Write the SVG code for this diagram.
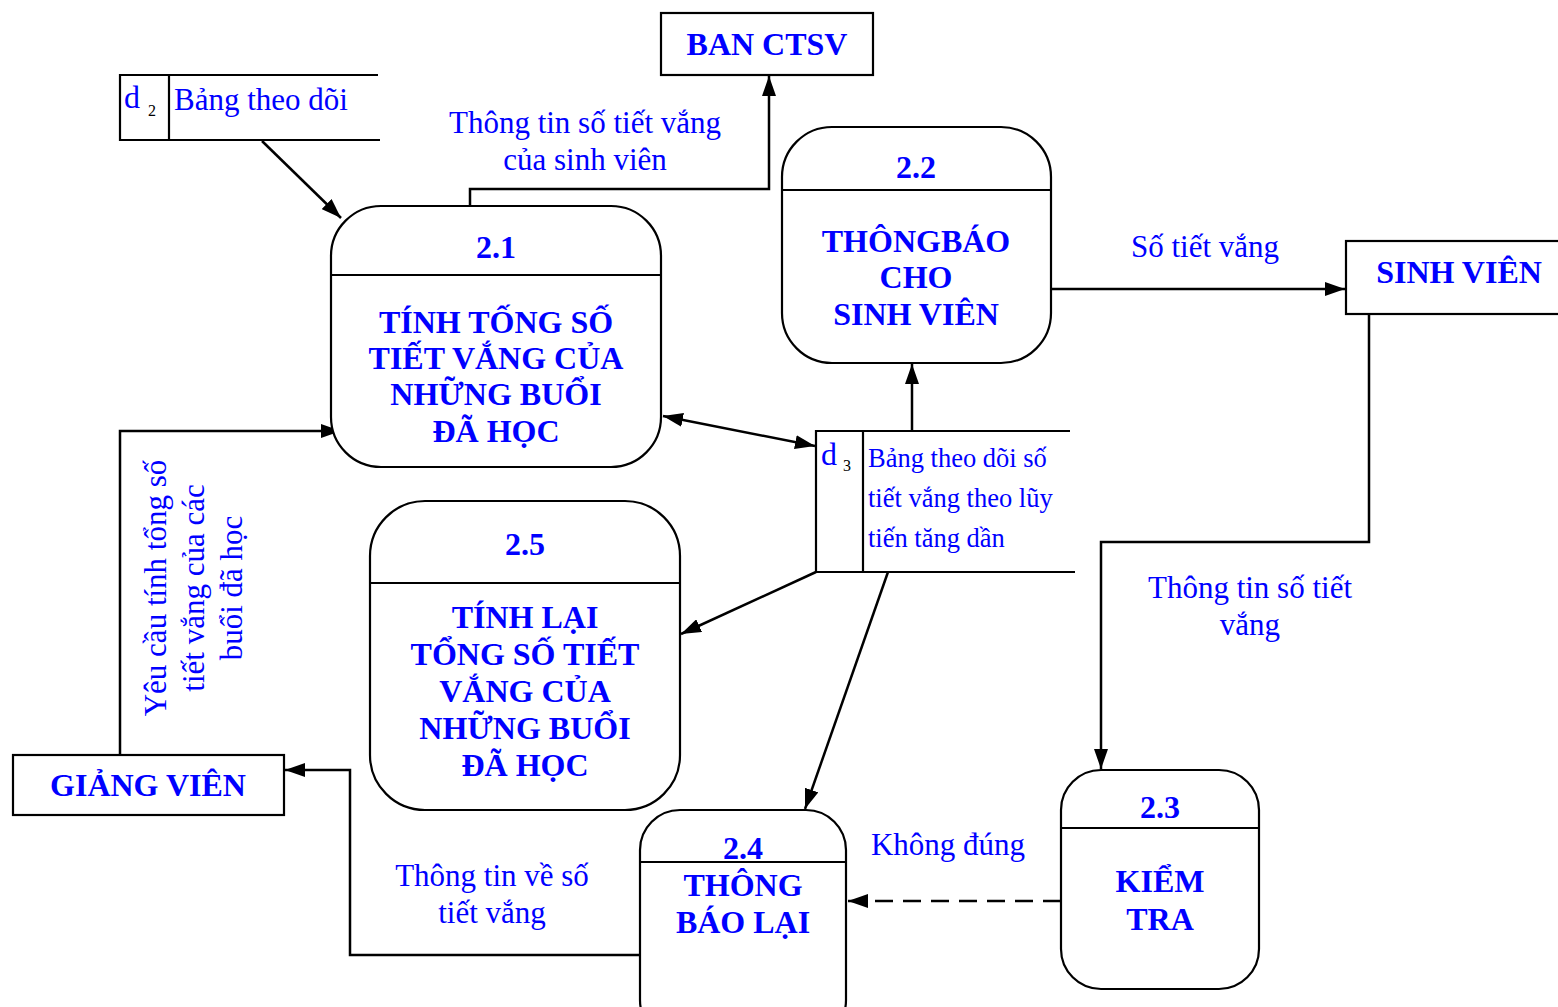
<svg xmlns="http://www.w3.org/2000/svg" width="1558" height="1007" viewBox="0 0 1558 1007">
  <style>
    .box { fill: #ffffff; stroke: #000000; stroke-width: 2.2; }
    .ln { fill: none; stroke: #000000; stroke-width: 2.2; }
    .flow { fill: none; stroke: #000000; stroke-width: 2.5; }
    .dash { stroke-dasharray: 18 10; }
    .t { font-family: "Liberation Serif", "Times New Roman", serif; fill: #0000ff; }
    .lbl { font-size: 31px; text-anchor: middle; }
    .bold { font-weight: bold; font-size: 32px; text-anchor: middle; }
    .sub { font-family: "Liberation Serif", "Times New Roman", serif; fill: #000000; font-size: 16px; }
  </style>
  <defs>
    <marker id="arrow" viewBox="0 0 20 14" refX="20" refY="7" markerWidth="20" markerHeight="14" markerUnits="userSpaceOnUse" orient="auto-start-reverse">
      <path d="M0,0 L20,7 L0,14 Z" fill="#000000"/>
    </marker>
  </defs>
  <rect width="1558" height="1007" fill="#ffffff"/>

  <!-- connectors -->
  <g id="connectors">
    <path class="flow" d="M262,141 L341,218" marker-end="url(#arrow)"/>
    <path class="flow" d="M470,206 V189 H769 V76" marker-end="url(#arrow)"/>
    <path class="flow" d="M1051,289 H1345" marker-end="url(#arrow)"/>
    <path class="flow" d="M1369,314 V542 H1101 V769" marker-end="url(#arrow)"/>
    <path class="flow" d="M912,431 V364" marker-end="url(#arrow)"/>
    <path class="flow" d="M663,416 L815,446" marker-start="url(#arrow)" marker-end="url(#arrow)"/>
    <path class="flow" d="M816,572 L681,634" marker-end="url(#arrow)"/>
    <path class="flow" d="M888,572 L805,809" marker-end="url(#arrow)"/>
    <path class="flow dash" d="M1061,901 H848" marker-end="url(#arrow)"/>
    <path class="flow" d="M640,955 H350 V770 H285" marker-end="url(#arrow)"/>
    <path class="flow" d="M120,755 V431 H341" marker-end="url(#arrow)"/>

    <!-- flow labels -->
    <text class="t lbl" x="585" y="133">Thông tin số tiết vắng</text>
    <text class="t lbl" x="585" y="170">của sinh viên</text>
    <text class="t lbl" x="1205" y="257">Số tiết vắng</text>
    <text class="t lbl" x="1250" y="598">Thông tin số tiết</text>
    <text class="t lbl" x="1250" y="635">vắng</text>
    <text class="t lbl" x="948" y="855">Không đúng</text>
    <text class="t lbl" x="492" y="886">Thông tin về số</text>
    <text class="t lbl" x="492" y="923">tiết vắng</text>
    <text class="t lbl" transform="translate(166,588) rotate(-90)">Yêu cầu tính tổng số</text>
    <text class="t lbl" transform="translate(204,588) rotate(-90)">tiết vắng của các</text>
    <text class="t lbl" transform="translate(242,588) rotate(-90)">buổi đã học</text>
  </g>

  <!-- external entities -->
  <g id="ban-ctsv">
    <rect class="box" x="661" y="13" width="212" height="62"/>
    <text class="t bold" x="767" y="55">BAN CTSV</text>
  </g>
  <g id="sinh-vien">
    <rect class="box" x="1346" y="241" width="220" height="73"/>
    <text class="t bold" x="1459" y="283">SINH VIÊN</text>
  </g>
  <g id="giang-vien">
    <rect class="box" x="13" y="755" width="271" height="60"/>
    <text class="t bold" x="148" y="796">GIẢNG VIÊN</text>
  </g>

  <!-- data stores -->
  <g id="store-d2">
    <path class="ln" d="M378,75 H120 V140 H380 M169,75 V140"/>
    <text class="t" x="124" y="108" font-size="32">d</text>
    <text class="sub" x="148" y="116">2</text>
    <text class="t" x="174" y="110" font-size="31">Bảng theo dõi</text>
  </g>
  <g id="store-d3">
    <path class="ln" d="M1070,431 H816 V572 H1075 M863,431 V572"/>
    <text class="t" x="821" y="465" font-size="32">d</text>
    <text class="sub" x="843" y="471">3</text>
    <text class="t" x="868" y="467" font-size="26.5">Bảng theo dõi số</text>
    <text class="t" x="868" y="507" font-size="26.5">tiết vắng theo lũy</text>
    <text class="t" x="868" y="547" font-size="26.5">tiến tăng dần</text>
  </g>

  <!-- processes -->
  <g id="process-2-1">
    <rect class="box" x="331" y="206" width="330" height="261" rx="50" ry="50"/>
    <line class="ln" x1="331" y1="275" x2="661" y2="275"/>
    <text class="t bold" x="496" y="258">2.1</text>
    <text class="t bold" x="496" y="333">TÍNH TỐNG SỐ</text>
    <text class="t bold" x="496" y="369">TIẾT VẮNG CỦA</text>
    <text class="t bold" x="496" y="405">NHỮNG BUỔI</text>
    <text class="t bold" x="496" y="442">ĐÃ HỌC</text>
  </g>
  <g id="process-2-2">
    <rect class="box" x="782" y="127" width="269" height="236" rx="50" ry="50"/>
    <line class="ln" x1="782" y1="190" x2="1051" y2="190"/>
    <text class="t bold" x="916" y="178">2.2</text>
    <text class="t bold" x="916" y="252">THÔNGBÁO</text>
    <text class="t bold" x="916" y="288">CHO</text>
    <text class="t bold" x="916" y="325">SINH VIÊN</text>
  </g>
  <g id="process-2-5">
    <rect class="box" x="370" y="501" width="310" height="309" rx="55" ry="55"/>
    <line class="ln" x1="370" y1="583" x2="680" y2="583"/>
    <text class="t bold" x="525" y="555">2.5</text>
    <text class="t bold" x="525" y="628">TÍNH LẠI</text>
    <text class="t bold" x="525" y="665">TỔNG SỐ TIẾT</text>
    <text class="t bold" x="525" y="702">VẮNG CỦA</text>
    <text class="t bold" x="525" y="739">NHỮNG BUỔI</text>
    <text class="t bold" x="525" y="776">ĐÃ HỌC</text>
  </g>
  <g id="process-2-4">
    <rect class="box" x="640" y="810" width="206" height="230" rx="40" ry="40"/>
    <line class="ln" x1="640" y1="862" x2="846" y2="862"/>
    <text class="t bold" x="743" y="859">2.4</text>
    <text class="t bold" x="743" y="896">THÔNG</text>
    <text class="t bold" x="743" y="933">BÁO LẠI</text>
  </g>
  <g id="process-2-3">
    <rect class="box" x="1061" y="770" width="198" height="219" rx="40" ry="40"/>
    <line class="ln" x1="1061" y1="828" x2="1259" y2="828"/>
    <text class="t bold" x="1160" y="818">2.3</text>
    <text class="t bold" x="1160" y="892">KIỂM</text>
    <text class="t bold" x="1160" y="930">TRA</text>
  </g>
</svg>
